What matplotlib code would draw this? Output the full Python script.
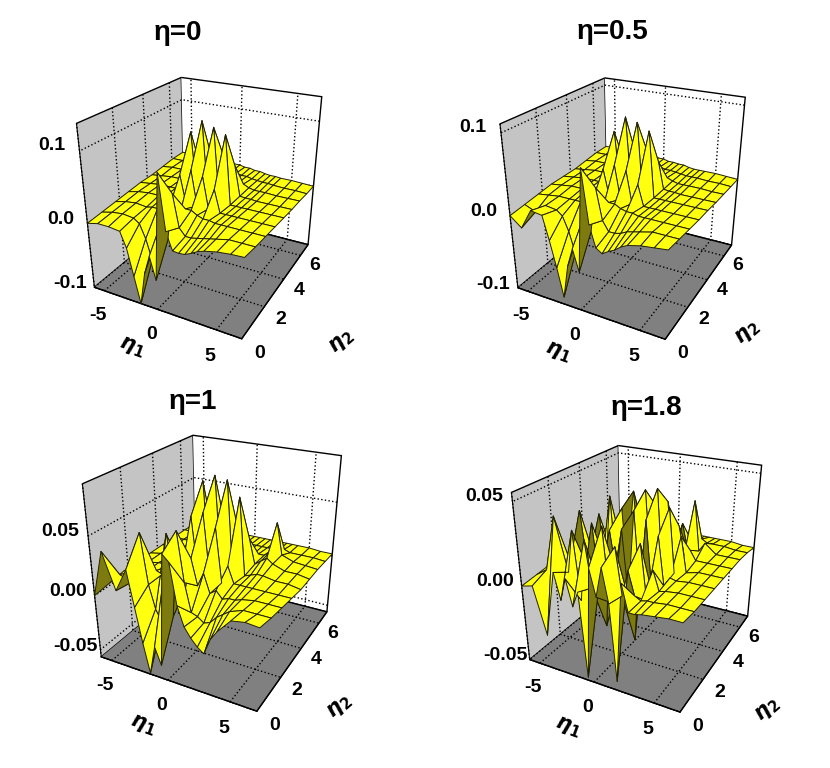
import numpy as np
import matplotlib
matplotlib.use("Agg")
import matplotlib.pyplot as plt

plt.rcParams["font.family"] = ["Liberation Sans", "DejaVu Sans"]
plt.rcParams["mathtext.fontset"] = "dejavusans"

eta1 = [-6, -5, -4, -3, -2.5, -2, -1.5, -1, -0.5, 0, 0.5, 1, 1.5, 2, 2.5, 3, 3.5, 4, 5, 6, 7]
eta2 = [0, 0.875, 1.75, 2.625, 3.5, 4.375, 5.25, 6.125, 7]

z_eta0 = [
    [.000, .004, .004, .002, -.020, -.060, -.100, -.050, -.022, -.055, .095, .020, -.004, -.005, -.004, .000, .005, .008, .012, .014, .015],
    [.002, .006, .008, .006, .000, -.020, -.050, -.015, .012, -.012, .055, .010, .000, .000, .002, .004, .006, .008, .012, .012, .012],
    [.004, .008, .010, .008, .010, .010, .005, .012, .012, .010, .020, .020, .015, .012, .012, .010, .010, .010, .010, .010, .010],
    [.006, .010, .012, .012, .012, .012, .012, .050, .010, .060, .010, .055, .010, .040, .008, .008, .008, .008, .008, .008, .008],
    [.008, .010, .012, .012, .012, .012, .020, .100, .010, .118, .012, .112, .010, .105, .006, .006, .006, .006, .006, .006, .006],
    [.008, .010, .012, .012, .012, .012, .012, .030, .010, .050, .008, .060, .008, .050, .006, .005, .005, .004, .004, .004, .004],
    [.010, .012, .012, .012, .012, .012, .012, .012, .010, .010, .012, .010, .010, .010, .006, .004, .004, .004, .003, .003, .003],
    [.012, .012, .012, .012, .012, .012, .012, .012, .010, .010, .010, .008, .008, .006, .005, .004, .004, .003, .002, .002, .001],
    [.012, .012, .012, .012, .012, .012, .012, .012, .010, .010, .008, .008, .006, .006, .004, .003, .003, .002, .002, .001, .000],
]
z_eta05 = [
    [.000, -.012, .014, .012, -.018, -.052, -.090, -.045, -.020, -.048, .080, .016, -.010, -.015, -.010, -.006, .000, .004, .008, .010, .012],
    [.002, -.004, .008, .006, .000, -.018, -.045, -.012, .010, -.010, .046, .008, -.004, -.004, -.002, .002, .004, .006, .010, .010, .010],
    [.004, .006, .008, .008, .008, .008, .004, .010, .010, .008, .016, .016, .012, .010, .010, .008, .008, .008, .008, .008, .008],
    [.006, .008, .010, .010, .010, .010, .010, .042, .008, .050, .008, .046, .006, .032, .006, .006, .006, .006, .006, .006, .006],
    [.006, .008, .010, .010, .010, .010, .016, .080, .008, .100, .010, .096, .008, .088, .005, .005, .005, .005, .005, .005, .005],
    [.006, .008, .010, .010, .010, .010, .010, .025, .008, .042, .006, .050, .006, .040, .005, .004, .004, .003, .003, .003, .003],
    [.008, .010, .010, .010, .010, .010, .010, .010, .008, .008, .010, .008, .008, .008, .005, .003, .003, .003, .003, .002, .002],
    [.010, .010, .010, .010, .010, .010, .010, .010, .008, .008, .008, .006, .006, .005, .004, .003, .003, .003, .002, .002, .001],
    [.010, .010, .010, .010, .010, .010, .010, .010, .008, .008, .006, .006, .005, .005, .003, .002, .002, .002, .002, .001, .000],
]
z_eta1 = [
    [.000, .040, .010, .030, .000, -.030, -.056, -.030, -.045, .050, .045, .012, -.004, -.012, -.018, -.022, -.008, .000, .012, .014, .013],
    [.002, .012, .008, .052, .010, -.010, -.020, .030, -.012, .060, .020, -.004, -.006, -.010, -.008, -.002, .002, .006, .010, .010, .010],
    [.004, .006, .008, .012, .010, .046, .012, .006, .004, .030, .008, .020, .004, .008, .002, .004, .004, .006, .008, .008, .008],
    [.004, .006, .008, .008, .008, .008, .006, .055, .006, .060, .006, .050, .004, .020, .006, .006, .006, .006, .006, .006, .006],
    [.004, .006, .006, .006, .006, .006, .012, .078, .002, .084, .004, .082, .002, .070, .004, .006, .008, .008, .006, .006, .004],
    [.004, .004, .006, .006, .006, .006, .006, .016, .004, .030, .004, .035, .004, .028, .006, .010, .014, .010, .006, .006, .004],
    [.004, .004, .004, .004, .004, .004, .004, .006, .004, .006, .006, .006, .004, .006, .006, .010, .038, .010, .006, .005, .004],
    [.004, .004, .004, .004, .004, .004, .004, .004, .004, .004, .004, .004, .004, .004, .004, .004, .006, .004, .004, .004, .003],
    [.003, .003, .003, .003, .003, .003, .003, .003, .003, .003, .003, .003, .003, .003, .003, .003, .003, .003, .003, .002, .002],
]
z_eta18 = [
    [.000, .002, -.028, .014, -.002, .012, -.004, .006, -.048, .022, .006, .024, .004, -.044, .018, .002, .002, .003, .004, .005, .005],
    [.001, .006, .040, .008, .034, -.008, .030, .002, .000, .040, -.004, .030, .002, .018, .004, .002, .003, .003, .004, .004, .004],
    [.002, .003, .005, .040, .006, .034, -.004, -.030, .032, .006, .034, -.008, -.034, .028, -.006, .014, .002, .003, .004, .004, .004],
    [.002, .003, .003, .004, .034, .004, .046, -.008, .040, -.010, .040, -.012, .036, -.008, .028, -.002, .004, .003, .004, .004, .004],
    [.002, .002, .003, .003, .003, .003, .006, .012, .046, -.006, .048, -.004, .050, -.004, .040, .000, .024, .002, .004, .004, .004],
    [.002, .002, .002, .003, .003, .003, .003, .003, .014, .004, .034, .002, .038, .002, .024, .006, .010, .004, .004, .004, .004],
    [.002, .002, .002, .002, .002, .003, .003, .003, .003, .003, .006, .004, .006, .020, .003, .036, .004, .010, .004, .004, .004],
    [.002, .002, .002, .002, .002, .002, .002, .002, .002, .002, .003, .003, .003, .004, .003, .006, .004, .004, .004, .003, .003],
    [.002, .002, .002, .002, .002, .002, .002, .002, .002, .002, .002, .002, .002, .002, .002, .002, .002, .002, .002, .001, .001],
]

panel_titles = ["η=0", "η=0.5", "η=1", "η=1.8"]
panel_z = [z_eta0, z_eta05, z_eta1, z_eta18]
z_limits = [(-0.1, 0.135), (-0.1, 0.11), (-0.057, 0.09), (-0.05, 0.055)]
z_ticks = [[-0.1, 0, 0.1], [-0.1, 0, 0.1], [-0.05, 0, 0.05], [-0.05, 0, 0.05]]
z_labels = [["-0.1", "0.0", "0.1"], ["-0.1", "0.0", "0.1"],
            ["-0.05", "0.00", "0.05"], ["-0.05", "0.00", "0.05"]]
# box centre in pixels and relative size of each panel
centres = [(201.5, 209.5), (625, 210), (214.5, 574), (639, 580)]
sizes = [1.0, 1.0, 1.056, 1.02]
title_pos = [(178, 33), (612, 32), (193, 402), (646, 408)]
xlabel_pos = [(132, 347), (558, 352), (143, 725), (568, 727)]
ylabel_pos = [(342, 342), (748, 333), (340, 707), (768, 710)]

W, H = 830, 768
ELEV, AZIM = 26, -62
BOX = (1, 1.1, 1.06)
fig = plt.figure(figsize=(W / 100, H / 100), dpi=100)

for i in range(4):
    w = h = 320 * sizes[i]
    l = centres[i][0] + 2 - w / 2
    t = centres[i][1] - 13 - h / 2
    ax = fig.add_axes([l / W, 1 - (t + h) / H, w / W, h / H], projection="3d")
    ax.set_proj_type("persp", focal_length=0.32)
    ax.view_init(elev=ELEV, azim=AZIM)
    ax.set_box_aspect(BOX, zoom=0.9)
    ax.patch.set_alpha(0)

    X, Y = np.meshgrid(eta1, eta2)
    Z = np.array(panel_z[i])
    zlo, zhi = z_limits[i]

    # yellow on the side facing the viewer, olive on the back of the sheet
    sx = BOX[2] / (zhi - zlo) * 13 / BOX[0]
    sy = BOX[2] / (zhi - zlo) * 7 / BOX[1]
    dzx = (Z[:-1, 1:] - Z[:-1, :-1]) / np.diff(eta1)[None, :] * sx
    dzy = (Z[1:, :-1] - Z[:-1, :-1]) / np.diff(eta2)[:, None] * sy
    e, a = np.radians(ELEV), np.radians(AZIM)
    facing = -dzx * np.cos(e) * np.cos(a) - dzy * np.cos(e) * np.sin(a) + np.sin(e)
    colors = np.empty(facing.shape + (4,))
    colors[facing >= 0] = matplotlib.colors.to_rgba("#ffff10")
    colors[facing < 0] = matplotlib.colors.to_rgba("#7d7a10")
    ax.plot_surface(X, Y, Z, facecolors=colors, edgecolor="#202000", linewidth=0.7,
                    rstride=1, cstride=1, shade=False, antialiased=True)

    ax.set_xlim(-6, 7)
    ax.set_ylim(0, 7)
    ax.set_zlim(zlo, zhi)
    ax.set_xticks([-5, 0, 5])
    ax.set_xticklabels(["-5", "0", "5"])
    ax.set_yticks([0, 2, 4, 6])
    ax.set_zticks(z_ticks[i])
    ax.set_zticklabels(z_labels[i])
    ax.zaxis.set_ticks_position("lower")

    ax.xaxis.set_pane_color("#c4c4c4")
    ax.yaxis.set_pane_color("#ffffff")
    ax.zaxis.set_pane_color("#808080")
    for axis in (ax.xaxis, ax.yaxis, ax.zaxis):
        axis.pane.set_edgecolor("black")
        axis.pane.set_linewidth(1.0)
        axis._axinfo["grid"].update(color="black", linestyle=":", linewidth=1.0)
        axis._axinfo["tick"].update(inward_factor=0, outward_factor=0)
        axis.line.set_color("black")
    ax.tick_params(axis="x", labelsize=14, pad=0)
    ax.tick_params(axis="y", labelsize=14, pad=5)
    ax.tick_params(axis="z", labelsize=14, pad=4)
    for lab in ax.get_xticklabels():
        lab.set_fontweight("bold")
    for lab in ax.get_yticklabels() + ax.get_zticklabels():
        lab.set_fontweight("bold")
        lab.set_va("bottom")

    fig.text(title_pos[i][0] / W, 1 - title_pos[i][1] / H, panel_titles[i],
             fontsize=20, fontweight="bold", ha="center", va="center")
    fig.text(xlabel_pos[i][0] / W, 1 - xlabel_pos[i][1] / H, r"$\mathbfit{\eta}_{\mathbf{1}}$",
             fontsize=15, ha="center", va="center", rotation=-20)
    fig.text(ylabel_pos[i][0] / W, 1 - ylabel_pos[i][1] / H, r"$\mathbfit{\eta}_{\mathbf{2}}$",
             fontsize=15, ha="center", va="center", rotation=40)

fig.savefig("out.png", dpi=100)
